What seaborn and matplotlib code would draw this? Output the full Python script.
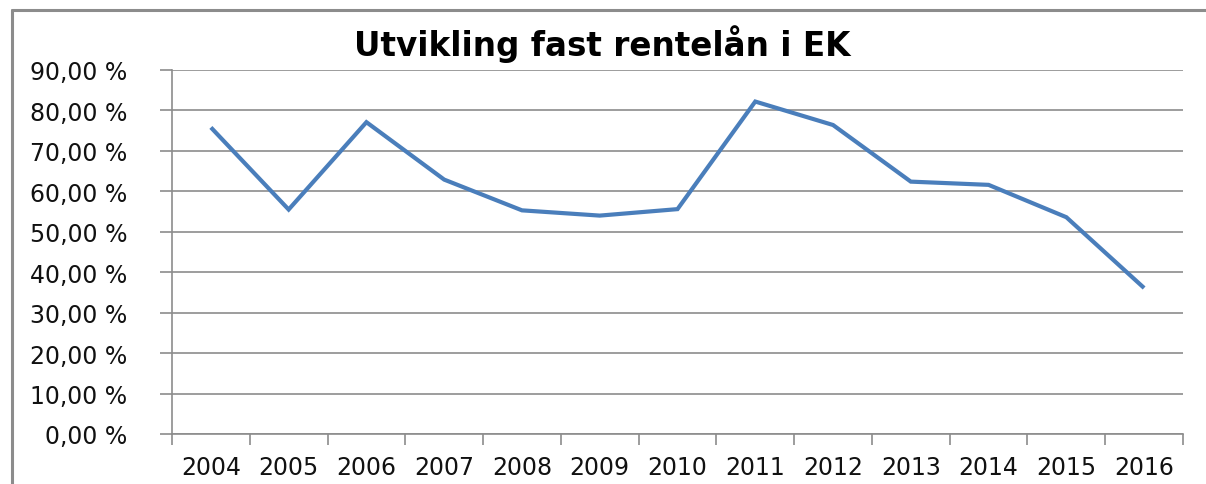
import numpy as np
import pandas as pd
import seaborn as sns
import matplotlib.pyplot as plt
from matplotlib.ticker import FuncFormatter, FixedLocator
from matplotlib.lines import Line2D

# data
years = ['2004', '2005', '2006', '2007', '2008', '2009', '2010',
         '2011', '2012', '2013', '2014', '2015', '2016']
share = [75.8, 55.5, 77.1, 62.9, 55.3, 54.0, 55.6,
         82.2, 76.4, 62.4, 61.6, 53.6, 36.1]
title = 'Utvikling fast rentelån i EK'

sns.set_theme(style='white')
plt.rcParams['font.family'] = ['DejaVu Sans']

df = pd.DataFrame({'year': years, 'share': share})
df['pos'] = np.arange(len(years))

fig = plt.figure(figsize=(12.06, 4.85), dpi=100)
ax = fig.add_axes([172 / 1206, 1 - 435 / 485, (1183 - 172) / 1206, (435 - 71) / 485])

# excel style outer border, only left and top edges are in view
bx, by = 12 / 1206, 1 - 11 / 485
fig.lines.append(Line2D([bx, bx], [-0.05, by], transform=fig.transFigure,
                        color='#8c8c8c', linewidth=2.2))
fig.lines.append(Line2D([bx, 1.05], [by, by], transform=fig.transFigure,
                        color='#8c8c8c', linewidth=2.2))

sns.lineplot(data=df, x='pos', y='share', ax=ax, color='#4a7ebb',
             linewidth=3.0, solid_joinstyle='miter', solid_capstyle='butt')

ax.set_xlim(-0.5, len(years) - 0.5)
ax.set_ylim(0, 90)
ax.set_yticks(np.arange(0, 91, 10))
ax.yaxis.set_major_formatter(FuncFormatter(lambda v, p: f'{v:.2f} %'.replace('.', ',')))
ax.grid(axis='y', color='#8c8c8c', linewidth=1.2)
ax.set_axisbelow(True)

# labels centered, tick marks between categories
ax.set_xticks(df['pos'])
ax.set_xticklabels(years)
ax.xaxis.set_minor_locator(FixedLocator(np.arange(-0.5, len(years), 1)))
ax.tick_params(axis='x', which='major', length=0, pad=15, labelsize=17)
ax.tick_params(axis='x', which='minor', length=8, width=1.2, color='#8c8c8c', bottom=True)
ax.tick_params(axis='y', length=9, width=1.2, color='#8c8c8c', left=True, pad=23, labelsize=17)
for lab in ax.get_xticklabels() + ax.get_yticklabels():
    lab.set_color('#111111')

for s in ['top', 'right']:
    ax.spines[s].set_visible(False)
for s in ['left', 'bottom']:
    ax.spines[s].set_color('#8c8c8c')
    ax.spines[s].set_linewidth(1.2)

ax.set_xlabel('')
ax.set_ylabel('')
fig.text(0.5 * (350 + 855) / 1206, 1 - 44 / 485, title, ha='center', va='center',
         fontsize=23.5, fontweight='bold', color='#000000')

fig.savefig('out.png', dpi=100, facecolor='white')
